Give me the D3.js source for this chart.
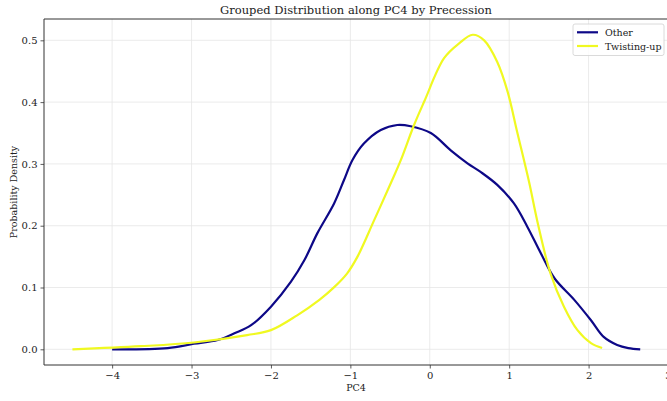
<!DOCTYPE html>
<html><head><meta charset="utf-8">
<script src="https://cdn.jsdelivr.net/npm/d3@7"></script>
<style>body{margin:0;background:#fff}svg{display:block}</style>
</head><body>
<svg id="c" width="667" height="401"></svg>
<script>
const title = "Grouped Distribution along PC4 by Precession";
const xLabel = "PC4";
const yLabel = "Probability Density";
const seriesNames = ["Other", "Twisting-up"];
const seriesColors = ["#0d0887", "#f0f921"];
const xTicks = [-4, -3, -2, -1, 0, 1, 2, 3];
const yTicks = [0.0, 0.1, 0.2, 0.3, 0.4, 0.5];

const otherX = [-4.0,-3.3,-2.97,-2.67,-2.46,-2.25,-2.0,-1.75,-1.58,-1.415,-1.205,-1.08,-0.975,-0.83,-0.617,-0.41,-0.24,0.013,0.264,0.475,0.64,0.85,1.06,1.23,1.40,1.57,1.82,2.03,2.19,2.36,2.5,2.65];
const otherY = [0.0,0.002,0.009,0.015,0.026,0.039,0.069,0.109,0.144,0.188,0.236,0.274,0.306,0.333,0.355,0.363,0.361,0.350,0.322,0.301,0.287,0.266,0.236,0.198,0.155,0.115,0.080,0.047,0.020,0.007,0.002,0.0];
const twistX = [-4.5,-3.64,-2.97,-2.3,-2.0,-1.67,-1.39,-1.2,-1.04,-0.91,-0.70,-0.49,-0.365,-0.198,-0.07,0.18,0.37,0.54,0.685,0.85,0.98,1.1,1.25,1.36,1.52,1.69,1.86,2.03,2.17];
const twistY = [0.0,0.005,0.011,0.023,0.031,0.055,0.080,0.101,0.123,0.150,0.209,0.269,0.306,0.363,0.401,0.471,0.495,0.509,0.500,0.465,0.417,0.352,0.271,0.204,0.123,0.069,0.031,0.010,0.002];

const svg = d3.select("#c");
const font = "DejaVu Serif, serif";
const L = 44, R = 668, T = 19, B = 365;
const x = d3.scaleLinear().domain([-4.858, 3.0]).range([L, R]);
const y = d3.scaleLinear().domain([-0.0254, 0.5345]).range([B, T]);

// grid
const g = svg.append("g");
g.selectAll(".gx").data(xTicks).join("line")
  .attr("x1", d => x(d)).attr("x2", d => x(d)).attr("y1", T).attr("y2", B)
  .attr("stroke", "#e6e6e6").attr("stroke-width", 0.8);
g.selectAll(".gy").data(yTicks).join("line")
  .attr("x1", L).attr("x2", R).attr("y1", d => y(d)).attr("y2", d => y(d))
  .attr("stroke", "#e6e6e6").attr("stroke-width", 0.8);

// lines
const line = d3.line().x(d => x(d[0])).y(d => y(d[1])).curve(d3.curveCatmullRom.alpha(0.5));
const series = [d3.zip(otherX, otherY), d3.zip(twistX, twistY)];
series.forEach((s, i) => {
  svg.append("path").datum(s).attr("d", line).attr("fill", "none")
    .attr("stroke", seriesColors[i]).attr("stroke-width", 2.2).attr("stroke-linejoin", "round");
});

// axes
const xAxis = d3.axisBottom(x).tickValues(xTicks).tickSize(3.5).tickPadding(3)
  .tickFormat(d => d < 0 ? "\u2212" + Math.abs(d) : String(d));
const gx = svg.append("g").attr("transform", `translate(0,${B})`).call(xAxis);
const yAxis = d3.axisLeft(y).tickValues(yTicks).tickSize(3.5).tickPadding(3).tickFormat(d3.format(".1f"));
const gy = svg.append("g").attr("transform", `translate(${L},0)`).call(yAxis);
[gx, gy].forEach(a => {
  a.select(".domain").remove();
  a.selectAll("line").attr("stroke", "#333").attr("stroke-width", 0.8);
  a.selectAll("text").attr("font-family", font).attr("font-size", 10).attr("fill", "#222");
});

// spines
svg.append("line").attr("x1", L).attr("x2", L).attr("y1", T).attr("y2", B).attr("stroke", "#333").attr("stroke-width", 1);
svg.append("line").attr("x1", L).attr("x2", R).attr("y1", B).attr("y2", B).attr("stroke", "#333").attr("stroke-width", 1);
svg.append("line").attr("x1", L).attr("x2", R).attr("y1", T).attr("y2", T).attr("stroke", "#333").attr("stroke-width", 1);

// labels
svg.append("text").attr("x", (L + R) / 2).attr("y", 14).attr("text-anchor", "middle")
  .attr("font-family", font).attr("font-size", 11.5).attr("fill", "#222").text(title);
svg.append("text").attr("x", (L + R) / 2).attr("y", 391).attr("text-anchor", "middle")
  .attr("font-family", font).attr("font-size", 9.5).attr("fill", "#222").text(xLabel);
svg.append("text").attr("transform", `translate(17,${(T + B) / 2}) rotate(-90)`).attr("text-anchor", "middle")
  .attr("font-family", font).attr("font-size", 9.5).attr("fill", "#222").text(yLabel);

// legend
const lg = svg.append("g").attr("transform", "translate(573,24)");
lg.append("rect").attr("width", 91).attr("height", 31.5).attr("rx", 2)
  .attr("fill", "#fff").attr("fill-opacity", 0.85).attr("stroke", "#d0d0d0").attr("stroke-width", 0.8);
seriesNames.forEach((n, i) => {
  const yy = 8.3 + i * 13.7;
  lg.append("line").attr("x1", 4).attr("x2", 25).attr("y1", yy).attr("y2", yy)
    .attr("stroke", seriesColors[i]).attr("stroke-width", 2.2);
  lg.append("text").attr("x", 32).attr("y", yy + 3.5).attr("font-family", font).attr("font-size", 9.5)
    .attr("fill", "#222").text(n);
});
</script>
</body></html>
